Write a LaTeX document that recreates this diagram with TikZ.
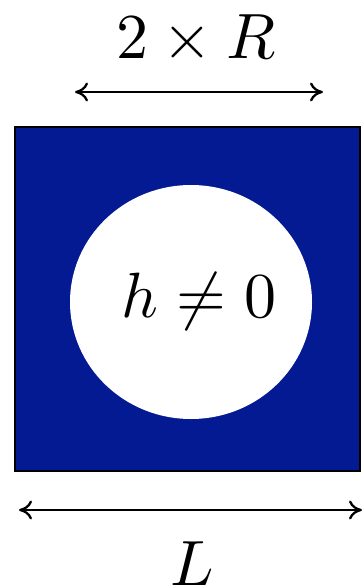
\documentclass[tikz,border=0pt]{standalone}
\usetikzlibrary{arrows.meta}
\definecolor{darkfill}{RGB}{4,26,147}
\begin{document}
\begin{tikzpicture}[x=1pt,y=-1pt,
  lbl/.style={inner sep=0pt,anchor=base},
  dim/.style={line width=2.3pt,{To[length=13pt,width=19pt]}-{To[length=13pt,width=19pt]}}]
\useasboundingbox (0,0) rectangle (361,588);
\fill[white] (0,0) rectangle (361,588);
\draw[fill=darkfill,draw=black,line width=2pt] (14.5,127) rectangle (359.5,470.5);
\fill[white] (191,302) ellipse [x radius=121, y radius=117];
\node[lbl] (h) at (199,317) {\scalebox{6.4}{$h\neq0$}};
\node[lbl] (r) at (196,59) {\scalebox{6.4}{$2\times R$}};
\node[lbl] (l) at (192,585) {\scalebox{6.4}{$L$}};
\coordinate (ta) at (75,92);
\coordinate (tb) at (323,92);
\coordinate (ba) at (19,510);
\coordinate (bb) at (362,510);
\draw[dim] (ta) -- (tb);
\draw[dim] (ba) -- (bb);
\end{tikzpicture}
\end{document}
